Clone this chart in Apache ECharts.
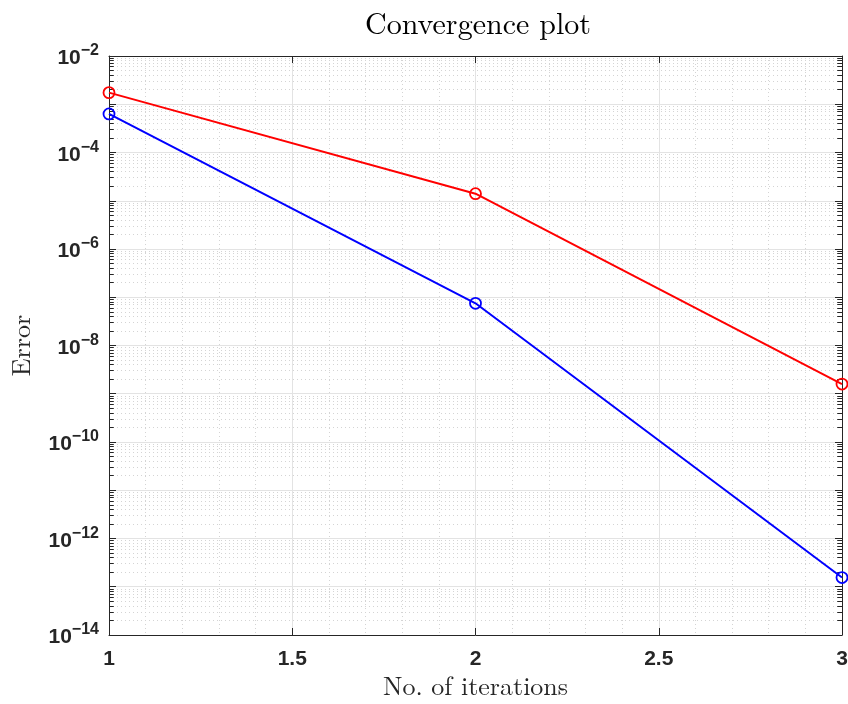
<!DOCTYPE html>
<html>
<head>
<meta charset="utf-8">
<style>
  html, body { margin: 0; padding: 0; background: #fff; }
  #chart { width: 848px; height: 704px; }
</style>
<script src="https://cdn.jsdelivr.net/npm/echarts@6/dist/echarts.min.js"></script>
</head>
<body>
<div id="chart"></div>
<script>
// Iteration counts and errors of the two schemes
const iterations = [1, 2, 3];
const errorRed = [1.74e-3, 1.4e-5, 1.59e-9];
const errorBlue = [6.3e-4, 7.5e-8, 1.55e-13];

// Axis ranges and tick labels
const xTicks = [1, 1.5, 2, 2.5, 3];
const yMin = 1e-14;
const yMax = 1e-2;
const yLabelExponents = [-14, -12, -10, -8, -6, -4, -2];

const axisColor = '#262626';
const labelFont = '"Liberation Sans", Arial, Helvetica, sans-serif';
const serifFont = '"Latin Modern Roman", "CMU Serif", "Liberation Serif", "Times New Roman", serif';

// Minor decade positions 2..9 x 10^k on the log axis
const minorY = [];
for (let k = -14; k < -2; k++) {
  for (let m = 2; m <= 9; m++) minorY.push(m * Math.pow(10, k));
}

const xMin = xTicks[0], xMax = xTicks[xTicks.length - 1];
const minorTickLen = 0.013;

const minorGrid = minorY.map(v => [{ coord: [xMin, v] }, { coord: [xMax, v] }]);
const minorTicks = [];
minorY.forEach(v => {
  minorTicks.push([{ coord: [xMin, v] }, { coord: [xMin + minorTickLen, v] }]);
  minorTicks.push([{ coord: [xMax - minorTickLen, v] }, { coord: [xMax, v] }]);
});

// Decade labels as 10 with a raised exponent
function yLabel(value) {
  const e = Math.round(Math.log10(value));
  if (yLabelExponents.indexOf(e) < 0) return '';
  return '{b|10}{e|' + String(e).replace('-', '\u2212') + '}';
}

const chart = echarts.init(document.getElementById('chart'), null, { renderer: 'canvas' });

const logAxisBase = {
  type: 'log',
  logBase: 10,
  min: yMin,
  max: yMax,
  interval: 1,
  axisLine: { show: true, lineStyle: { color: axisColor, width: 1 } },
  axisTick: { show: true, inside: true, length: 7, lineStyle: { color: axisColor } },
  minorTick: { show: false },
};

chart.setOption({
  animation: false,
  title: {
    text: 'Convergence plot',
    left: 473,
    top: 5,
    textAlign: 'center',
    textStyle: { fontFamily: serifFont, fontSize: 30, fontWeight: 'normal', color: '#000' }
  },
  grid: { left: 109, right: 6, top: 56, bottom: 69, containLabel: false, outerBoundsMode: 'none' },
  xAxis: [{
    type: 'value',
    min: xMin,
    max: xMax,
    interval: 0.5,
    name: 'No. of iterations',
    nameLocation: 'middle',
    nameGap: 39,
    nameMoveOverlap: false,
    nameTextStyle: { fontFamily: serifFont, fontSize: 26, color: '#262626' },
    axisLine: { show: true, onZero: false, lineStyle: { color: axisColor, width: 1 } },
    axisTick: { show: true, inside: true, length: 7, lineStyle: { color: axisColor } },
    axisLabel: {
      margin: 14,
      fontFamily: labelFont, fontWeight: 'bold', fontSize: 21, color: axisColor,
      formatter: v => String(v)
    },
    splitLine: { show: true, lineStyle: { color: '#e3e3e3', width: 1 } },
    minorTick: { show: false, splitNumber: 5 },
    minorSplitLine: { show: true, lineStyle: { color: '#d4d4d4', width: 1, type: [1, 3] } }
  }, {
    type: 'value',
    position: 'top',
    min: xMin,
    max: xMax,
    interval: 0.5,
    axisLine: { show: true, onZero: false, lineStyle: { color: axisColor, width: 1 } },
    axisTick: { show: true, inside: true, length: 7, lineStyle: { color: axisColor } },
    axisLabel: { show: false },
    splitLine: { show: false }
  }],
  yAxis: [Object.assign({}, logAxisBase, {
    position: 'left',
    name: 'Error',
    nameLocation: 'middle',
    nameGap: 74,
    nameRotate: 90,
    nameMoveOverlap: false,
    nameTextStyle: { fontFamily: serifFont, fontSize: 26, color: '#262626' },
    axisLabel: {
      margin: 10,
      fontFamily: labelFont, fontWeight: 'bold', fontSize: 21, color: axisColor,
      formatter: yLabel,
      rich: {
        b: { fontFamily: labelFont, fontWeight: 'bold', fontSize: 21, color: axisColor, lineHeight: 26, verticalAlign: 'bottom' },
        e: { fontFamily: labelFont, fontWeight: 'bold', fontSize: 16, color: axisColor, lineHeight: 26, verticalAlign: 'top' }
      }
    },
    splitLine: { show: true, lineStyle: { color: '#e3e3e3', width: 1 } }
  }), Object.assign({}, logAxisBase, {
    position: 'right',
    axisLabel: { show: false },
    splitLine: { show: false }
  })],
  series: [{
    name: 'minor grid',
    type: 'line',
    data: [],
    silent: true,
    markLine: {
      silent: true,
      symbol: 'none',
      label: { show: false },
      animation: false,
      lineStyle: { color: '#d4d4d4', width: 1, type: [1, 3] },
      data: minorGrid
    }
  }, {
    name: 'minor ticks',
    type: 'line',
    data: [],
    silent: true,
    markLine: {
      silent: true,
      symbol: 'none',
      label: { show: false },
      animation: false,
      lineStyle: { color: axisColor, width: 1, type: 'solid' },
      data: minorTicks
    }
  }, {
    name: 'blue',
    type: 'line',
    data: iterations.map((x, i) => [x, errorBlue[i]]),
    symbol: 'circle',
    symbolSize: 11,
    lineStyle: { color: '#0000ff', width: 2 },
    itemStyle: { color: 'rgba(0,0,0,0)', borderColor: '#0000ff', borderWidth: 1.8 },
    z: 5
  }, {
    name: 'red',
    type: 'line',
    data: iterations.map((x, i) => [x, errorRed[i]]),
    symbol: 'circle',
    symbolSize: 11,
    lineStyle: { color: '#ff0000', width: 2 },
    itemStyle: { color: 'rgba(0,0,0,0)', borderColor: '#ff0000', borderWidth: 1.8 },
    z: 5
  }]
});
</script>
</body>
</html>
